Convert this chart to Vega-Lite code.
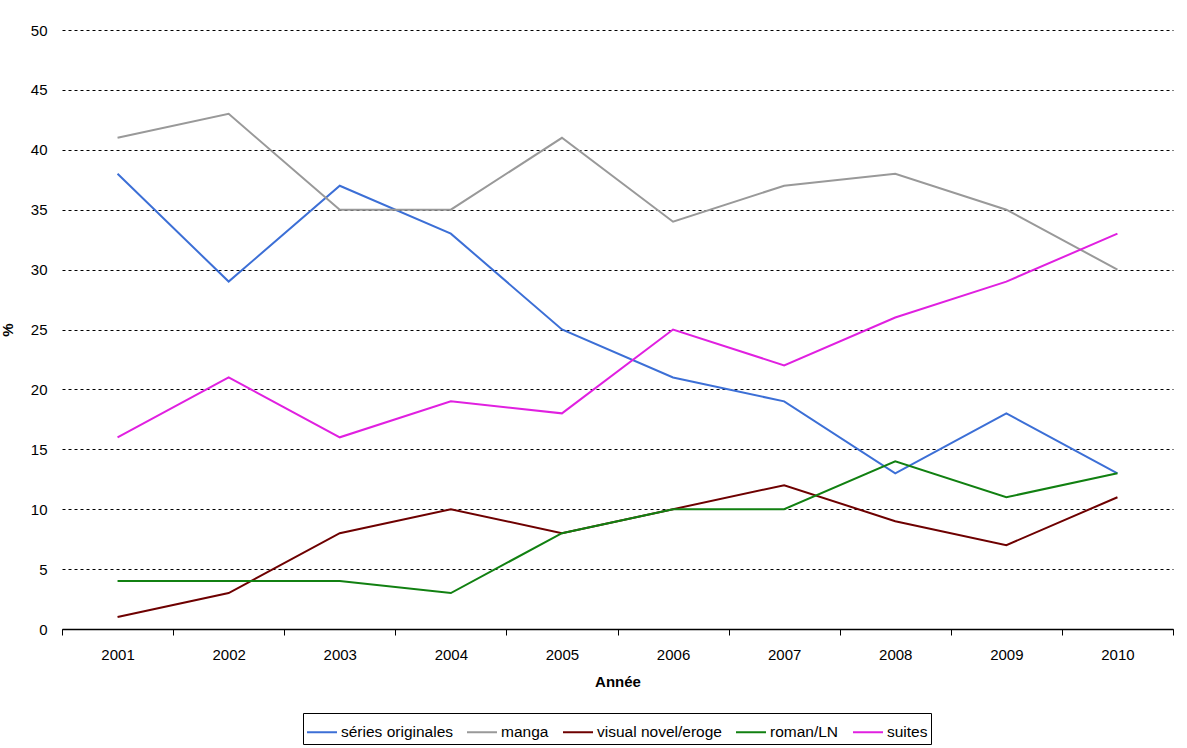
{
  "$schema": "https://vega.github.io/schema/vega-lite/v6.json",
  "autosize": {"type": "none"},
  "width": 1111,
  "height": 599,
  "padding": {"left": 62, "top": 30, "right": 14, "bottom": 119},
  "background": "white",
  "config": {
    "font": "Liberation Sans",
    "view": {"stroke": null}
  },
  "data": {
    "values": [
      {"annee": "2001", "serie": "séries originales", "pct": 38},
      {"annee": "2002", "serie": "séries originales", "pct": 29},
      {"annee": "2003", "serie": "séries originales", "pct": 37},
      {"annee": "2004", "serie": "séries originales", "pct": 33},
      {"annee": "2005", "serie": "séries originales", "pct": 25},
      {"annee": "2006", "serie": "séries originales", "pct": 21},
      {"annee": "2007", "serie": "séries originales", "pct": 19},
      {"annee": "2008", "serie": "séries originales", "pct": 13},
      {"annee": "2009", "serie": "séries originales", "pct": 18},
      {"annee": "2010", "serie": "séries originales", "pct": 13},
      {"annee": "2001", "serie": "manga", "pct": 41},
      {"annee": "2002", "serie": "manga", "pct": 43},
      {"annee": "2003", "serie": "manga", "pct": 35},
      {"annee": "2004", "serie": "manga", "pct": 35},
      {"annee": "2005", "serie": "manga", "pct": 41},
      {"annee": "2006", "serie": "manga", "pct": 34},
      {"annee": "2007", "serie": "manga", "pct": 37},
      {"annee": "2008", "serie": "manga", "pct": 38},
      {"annee": "2009", "serie": "manga", "pct": 35},
      {"annee": "2010", "serie": "manga", "pct": 30},
      {"annee": "2001", "serie": "visual novel/eroge", "pct": 1},
      {"annee": "2002", "serie": "visual novel/eroge", "pct": 3},
      {"annee": "2003", "serie": "visual novel/eroge", "pct": 8},
      {"annee": "2004", "serie": "visual novel/eroge", "pct": 10},
      {"annee": "2005", "serie": "visual novel/eroge", "pct": 8},
      {"annee": "2006", "serie": "visual novel/eroge", "pct": 10},
      {"annee": "2007", "serie": "visual novel/eroge", "pct": 12},
      {"annee": "2008", "serie": "visual novel/eroge", "pct": 9},
      {"annee": "2009", "serie": "visual novel/eroge", "pct": 7},
      {"annee": "2010", "serie": "visual novel/eroge", "pct": 11},
      {"annee": "2001", "serie": "roman/LN", "pct": 4},
      {"annee": "2002", "serie": "roman/LN", "pct": 4},
      {"annee": "2003", "serie": "roman/LN", "pct": 4},
      {"annee": "2004", "serie": "roman/LN", "pct": 3},
      {"annee": "2005", "serie": "roman/LN", "pct": 8},
      {"annee": "2006", "serie": "roman/LN", "pct": 10},
      {"annee": "2007", "serie": "roman/LN", "pct": 10},
      {"annee": "2008", "serie": "roman/LN", "pct": 14},
      {"annee": "2009", "serie": "roman/LN", "pct": 11},
      {"annee": "2010", "serie": "roman/LN", "pct": 13},
      {"annee": "2001", "serie": "suites", "pct": 16},
      {"annee": "2002", "serie": "suites", "pct": 21},
      {"annee": "2003", "serie": "suites", "pct": 16},
      {"annee": "2004", "serie": "suites", "pct": 19},
      {"annee": "2005", "serie": "suites", "pct": 18},
      {"annee": "2006", "serie": "suites", "pct": 25},
      {"annee": "2007", "serie": "suites", "pct": 22},
      {"annee": "2008", "serie": "suites", "pct": 26},
      {"annee": "2009", "serie": "suites", "pct": 29},
      {"annee": "2010", "serie": "suites", "pct": 33}
    ]
  },
  "mark": {"type": "line", "strokeWidth": 2},
  "encoding": {
    "x": {
      "field": "annee",
      "type": "ordinal",
      "scale": {"type": "band", "paddingInner": 0, "paddingOuter": 0},
      "axis": {
        "title": "Année",
        "titleFontSize": 15,
        "titleFontWeight": "bold",
        "titleColor": "black",
        "titlePadding": 12,
        "labelAngle": 0,
        "labelFontSize": 15,
        "labelColor": "black",
        "labelPadding": 12,
        "tickBand": "extent",
        "tickColor": "black",
        "tickSize": 6,
        "domainColor": "black",
        "domainWidth": 1.5,
        "grid": false
      }
    },
    "y": {
      "field": "pct",
      "type": "quantitative",
      "scale": {"domain": [0, 50], "nice": false},
      "axis": {
        "title": "%",
        "titleFontSize": 15,
        "titleFontWeight": "bold",
        "titleColor": "black",
        "titlePadding": 15,
        "values": [0, 5, 10, 15, 20, 25, 30, 35, 40, 45, 50],
        "labelFontSize": 15,
        "labelColor": "black",
        "labelPadding": 15,
        "domain": false,
        "ticks": false,
        "grid": true,
        "gridColor": "black",
        "gridDash": [3, 3],
        "gridWidth": 1
      }
    },
    "color": {
      "field": "serie",
      "type": "nominal",
      "sort": ["séries originales", "manga", "visual novel/eroge", "roman/LN", "suites"],
      "scale": {
        "domain": ["séries originales", "manga", "visual novel/eroge", "roman/LN", "suites"],
        "range": ["#3c6fd6", "#999999", "#6e0000", "#118011", "#e020e0"]
      },
      "legend": {
        "title": null,
        "orient": "none",
        "legendX": 241,
        "legendY": 683,
        "direction": "horizontal",
        "columns": 5,
        "symbolType": "stroke",
        "symbolSize": 900,
        "symbolStrokeWidth": 2,
        "labelFontSize": 15.5,
        "labelColor": "black",
        "labelOffset": 3,
        "columnPadding": 10,
        "padding": 3,
        "strokeColor": "black",
        "fillColor": "white"
      }
    }
  }
}
